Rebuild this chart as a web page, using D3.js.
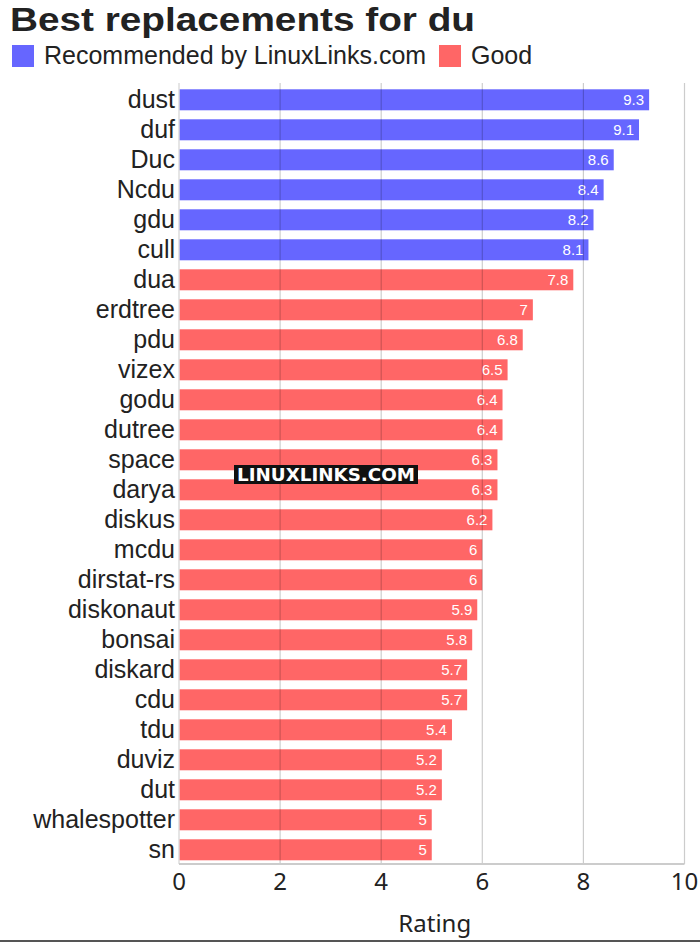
<!DOCTYPE html>
<html>
<head>
<meta charset="utf-8">
<script src="https://cdn.jsdelivr.net/npm/d3@7"></script>
<style>
  body { margin: 0; background: #fff; }
  svg { display: block; }
</style>
</head>
<body>
<script>
var w = 700;
var h = 943;

// tools and ratings, top to bottom
var tools = ["dust","duf","Duc","Ncdu","gdu","cull","dua","erdtree","pdu","vizex","godu","dutree",
  "space","darya","diskus","mcdu","dirstat-rs","diskonaut","bonsai","diskard","cdu","tdu","duviz",
  "dut","whalespotter","sn"];
var ratings = [9.3,9.1,8.6,8.4,8.2,8.1,7.8,7,6.8,6.5,6.4,6.4,6.3,6.3,6.2,6,6,5.9,5.8,5.7,5.7,5.4,
  5.2,5.2,5,5];
var groups = ["rec","rec","rec","rec","rec","rec","good","good","good","good","good","good","good",
  "good","good","good","good","good","good","good","good","good","good","good","good","good"];
var legendLabels = ["Recommended by LinuxLinks.com", "Good"];
var xTicks = [0, 2, 4, 6, 8, 10];

var colors = { rec: "#6666ff", good: "#ff6666" };
var data = tools.map((t, i) => ({ name: t, value: ratings[i], group: groups[i] }));

var m = { left: 179, right: 684.5, top: 83, bottom: 864 };

var x = d3.scaleLinear().domain([0, 10]).range([m.left, m.right]);
// 30px rows, 21px bars, first bar at ~89
var y = d3.scaleBand().domain(tools).range([80.3, 869.3]).paddingInner(0.3).paddingOuter(0.3);

var svg = d3.select("body").append("svg")
  .attr("width", w)
  .attr("height", h);

// title
svg.append("text")
  .attr("x", 10).attr("y", 31)
  .attr("textLength", 465)
  .attr("lengthAdjust", "spacingAndGlyphs")
  .style("font-family", "'Liberation Sans', Arial, sans-serif")
  .style("font-weight", "bold")
  .style("font-size", "34px")
  .attr("fill", "#222")
  .text("Best replacements for du");

// legend
var legendX = [12, 439];
legendLabels.forEach((lab, i) => {
  svg.append("rect")
    .attr("x", legendX[i]).attr("y", 45)
    .attr("width", 22).attr("height", 22)
    .attr("fill", i == 0 ? colors.rec : colors.good);
  svg.append("text")
    .attr("x", legendX[i] + 32).attr("y", 64)
    .style("font-family", "'Liberation Sans', Arial, sans-serif")
    .style("font-size", "25px")
    .attr("fill", "#222")
    .text(lab);
});

// bars
svg.selectAll(".bar")
  .data(data)
  .enter()
    .append("rect")
    .classed("bar", true)
    .attr("x", x(0))
    .attr("y", d => y(d.name))
    .attr("width", d => x(d.value) - x(0))
    .attr("height", y.bandwidth())
    .attr("fill", d => colors[d.group]);

// value labels inside bar ends
svg.selectAll(".val")
  .data(data)
  .enter()
    .append("text")
    .classed("val", true)
    .attr("x", d => x(d.value) - 5)
    .attr("y", d => y(d.name) + y.bandwidth() / 2)
    .attr("dy", "0.36em")
    .attr("text-anchor", "end")
    .style("font-family", "'Liberation Sans', Arial, sans-serif")
    .style("font-size", "15px")
    .attr("fill", "#fff")
    .text(d => d.value);

// gridlines drawn over the bars
svg.selectAll(".grid")
  .data(xTicks.slice(1))
  .enter()
    .append("line")
    .attr("x1", d => x(d)).attr("x2", d => x(d))
    .attr("y1", m.top).attr("y2", m.bottom)
    .attr("stroke", "rgba(0,0,0,0.2)")
    .attr("stroke-width", 1.2);

// y axis line + baseline
svg.append("line")
  .attr("x1", x(0)).attr("x2", x(0))
  .attr("y1", m.top).attr("y2", m.bottom)
  .attr("stroke", "#ddd").attr("stroke-width", 1.5);
svg.append("line")
  .attr("x1", x(0)).attr("x2", x(10))
  .attr("y1", m.bottom).attr("y2", m.bottom)
  .attr("stroke", "#ccc").attr("stroke-width", 2);

// category labels
svg.selectAll(".cat")
  .data(tools)
  .enter()
    .append("text")
    .attr("x", m.left - 4)
    .attr("y", d => y(d) + y.bandwidth() / 2)
    .attr("dy", "0.32em")
    .attr("text-anchor", "end")
    .style("font-family", "'Liberation Sans', Arial, sans-serif")
    .style("font-size", "25px")
    .attr("fill", "#222")
    .text(d => d);

// x axis tick labels
svg.selectAll(".tick")
  .data(xTicks)
  .enter()
    .append("text")
    .attr("x", d => x(d))
    .attr("y", 890)
    .attr("text-anchor", "middle")
    .style("font-family", "'Noto Sans', 'Open Sans', sans-serif")
    .style("font-size", "24px")
    .attr("fill", "#222")
    .text(d => d);

svg.append("text")
  .attr("x", (m.left + m.right) / 2 + 3)
  .attr("y", 932)
  .attr("text-anchor", "middle")
  .style("font-family", "'Noto Sans', 'Open Sans', sans-serif")
  .style("font-size", "24px")
  .attr("fill", "#222")
  .text("Rating");

// bottom border
svg.append("line")
  .attr("x1", 0).attr("x2", w)
  .attr("y1", 941).attr("y2", 941)
  .attr("stroke", "#555").attr("stroke-width", 2);

// watermark
svg.append("rect")
  .attr("x", 234).attr("y", 465)
  .attr("width", 184).attr("height", 19)
  .attr("fill", "#111");
svg.append("text")
  .attr("x", 326).attr("y", 481)
  .attr("text-anchor", "middle")
  .attr("textLength", 178)
  .attr("lengthAdjust", "spacingAndGlyphs")
  .style("font-family", "'DejaVu Sans', sans-serif")
  .style("font-weight", "bold")
  .style("font-size", "18px")
  .attr("fill", "#fff")
  .text("LINUXLINKS.COM");
</script>
</body>
</html>
